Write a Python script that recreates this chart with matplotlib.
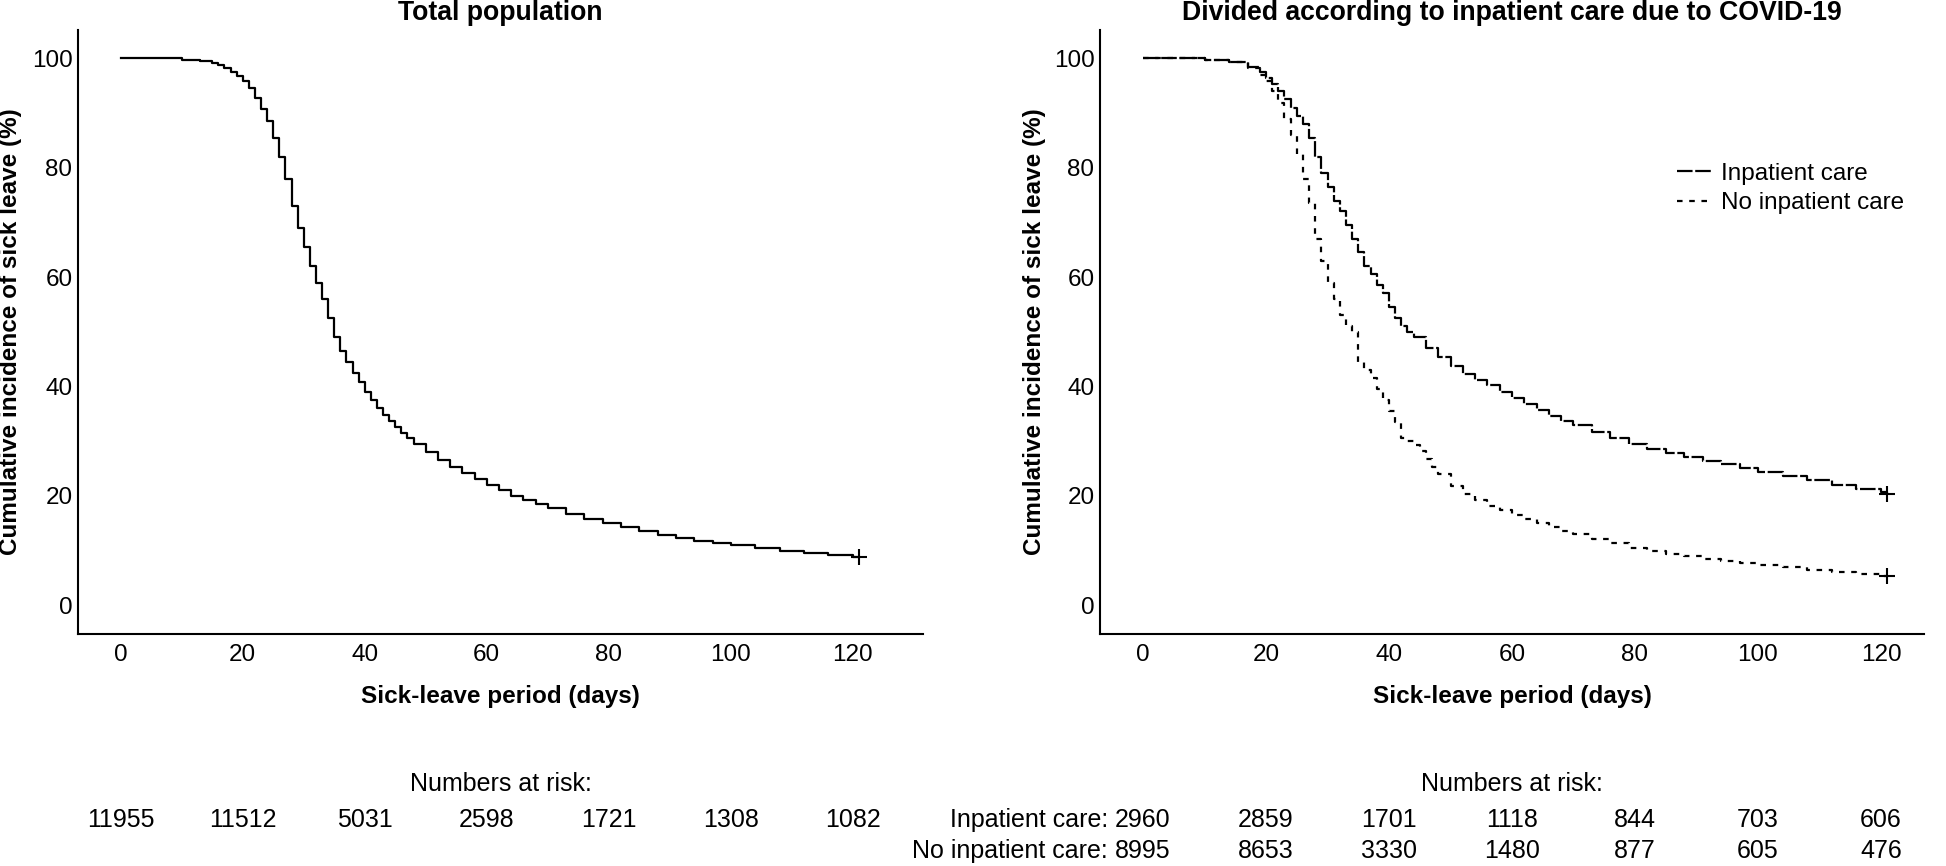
import matplotlib.pyplot as plt
import matplotlib.transforms as mtransforms

plt.rcParams['font.family'] = ['Liberation Sans', 'DejaVu Sans']

# total population, cumulative incidence of sick leave (%)
tot_days = [0, 10, 13, 15, 16, 17, 18, 19, 20, 21, 22, 23, 24, 25, 26, 27, 28, 29, 30,
            31, 32, 33, 34, 35, 36, 37, 38, 39, 40, 41, 42, 43, 44, 45, 46, 47, 48,
            50, 52, 54, 56, 58, 60, 62, 64, 66, 68, 70, 73, 76, 79, 82, 85, 88, 91,
            94, 97, 100, 104, 108, 112, 116, 120]
tot_vals = [100, 99.8, 99.5, 99.2, 98.8, 98.3, 97.6, 96.8, 95.8, 94.5, 92.8, 90.8, 88.5,
            85.5, 82, 78, 73, 69, 65.5, 62, 59, 56, 52.5, 49, 46.5, 44.5, 42.5, 40.8,
            39, 37.5, 36, 34.8, 33.7, 32.6, 31.5, 30.5, 29.5, 28, 26.6, 25.3, 24.1, 23,
            22, 21, 20, 19.2, 18.4, 17.7, 16.7, 15.8, 15, 14.2, 13.5, 12.9, 12.3, 11.8,
            11.3, 10.9, 10.4, 9.9, 9.5, 9.1, 8.8]

inp_days = [0, 10, 14, 17, 19, 20, 21, 22, 23, 24, 25, 26, 27, 28, 29, 30, 31, 32, 33,
            34, 35, 36, 37, 38, 39, 40, 41, 42, 43, 44, 46, 48, 50, 52, 54, 56, 58, 60,
            62, 64, 66, 68, 70, 73, 76, 79, 82, 85, 88, 91, 94, 97, 100, 104, 108, 112,
            116, 120]
inp_vals = [100, 99.7, 99.4, 98.5, 97.5, 96.5, 95.3, 94, 92.5, 91, 89.5, 88, 85.5, 82,
            79, 76.5, 74, 72, 69.5, 67, 64.5, 62, 60.5, 58.5, 57, 54.5, 52.5, 51, 50,
            49, 47, 45.3, 43.8, 42.3, 41.2, 40.2, 39, 37.8, 36.8, 35.6, 34.6, 33.7, 32.9,
            31.7, 30.6, 29.5, 28.6, 27.8, 27.1, 26.4, 25.8, 25.1, 24.4, 23.6, 22.8, 22,
            21.3, 20.6]

noinp_days = [0, 10, 14, 17, 19, 20, 21, 22, 23, 24, 25, 26, 27, 28, 29, 30, 31, 32,
              33, 34, 35, 36, 37, 38, 39, 40, 41, 42, 43, 44, 45, 46, 47, 48, 50, 52,
              54, 56, 58, 60, 62, 64, 66, 68, 70, 73, 76, 79, 82, 85, 88, 91, 94, 97,
              100, 104, 108, 112, 116, 120]
noinp_vals = [100, 99.7, 99.3, 98.3, 97, 95.8, 94, 91.8, 89, 86, 82.5, 78, 73.5, 67, 63,
              59, 56, 53, 51, 50, 44.5, 43, 41.5, 39.5, 37.5, 35.5, 33.5, 30.5, 30, 29.3,
              28.2, 26.8, 25.3, 24, 21.8, 20.3, 19.2, 18.2, 17.3, 16.5, 15.8, 15, 14.3,
              13.6, 13, 12.1, 11.3, 10.5, 9.9, 9.4, 8.9, 8.5, 8.1, 7.7, 7.3, 6.9, 6.5,
              6.1, 5.7, 5.4]

end_day = 121
tot_end, inp_end, noinp_end = 8.8, 20.4, 5.3

risk_days = [0, 20, 40, 60, 80, 100, 120]
risk_total = [11955, 11512, 5031, 2598, 1721, 1308, 1082]
risk_inp = [2960, 2859, 1701, 1118, 844, 703, 606]
risk_noinp = [8995, 8653, 3330, 1480, 877, 605, 476]

FS = 17.5
RISK_FS = 18

fig = plt.figure(figsize=(19.46, 8.66), dpi=100)
ax1 = fig.add_axes([78 / 1946, 1 - 634 / 866, 845 / 1946, 604 / 866])
ax2 = fig.add_axes([1100 / 1946, 1 - 634 / 866, 824 / 1946, 604 / 866])


def km(ax, days, vals, last, **kw):
    ax.step(days + [end_day], vals + [last], where='post', color='k', lw=1.6, **kw)
    ax.plot([end_day], [last], marker='+', color='k', ms=11, mew=1.5)


km(ax1, tot_days, tot_vals, tot_end)
km(ax2, inp_days, inp_vals, inp_end, dashes=(7, 1.2), label='Inpatient care')
km(ax2, noinp_days, noinp_vals, noinp_end, dashes=(2.5, 3), label='No inpatient care')

ax1.set_xlim(-7, 131.5)
ax2.set_xlim(-7, 127)
for ax, title in [(ax1, 'Total population'),
                  (ax2, 'Divided according to inpatient care due to COVID-19')]:
    ax.set_ylim(-5.3, 105.2)
    ax.set_xticks(range(0, 121, 20))
    ax.set_yticks(range(0, 101, 20))
    ax.spines['top'].set_visible(False)
    ax.spines['right'].set_visible(False)
    ax.spines['left'].set_linewidth(1.5)
    ax.spines['bottom'].set_linewidth(1.5)
    ax.tick_params(length=0, labelsize=17.5)
    ax.tick_params(axis='x', pad=7)
    ax.tick_params(axis='y', pad=4)
    ax.set_title(title, fontsize=19.2, fontweight='bold', pad=7)
    ax.set_xlabel('Sick-leave period (days)', fontsize=FS, fontweight='bold')
    ax.set_ylabel('Cumulative incidence of sick leave (%)', fontsize=FS, fontweight='bold')
    ax.xaxis.set_label_coords(0.5, -0.085)
    ax.yaxis.set_label_coords(-0.066, 0.5)

ax2.legend(loc='upper left', bbox_to_anchor=(0.70, 0.78), frameon=False, fontsize=FS,
           handlelength=1.5, handletextpad=0.3, labelspacing=0.3, borderpad=0,
           borderaxespad=0)

# numbers at risk tables
y_head, y_row1, y_row2 = 1 - 784 / 866, 1 - 820 / 866, 1 - 851 / 866
tr1 = mtransforms.blended_transform_factory(ax1.transData, fig.transFigure)
tr2 = mtransforms.blended_transform_factory(ax2.transData, fig.transFigure)

fig.text(0.5 * (78 + 923) / 1946, y_head, 'Numbers at risk:', ha='center', va='center',
         fontsize=RISK_FS)
fig.text(0.5 * (1100 + 1924) / 1946, y_head, 'Numbers at risk:', ha='center',
         va='center', fontsize=RISK_FS)
for d, n in zip(risk_days, risk_total):
    ax1.text(d, y_row1, str(n), transform=tr1, ha='center', va='center', fontsize=RISK_FS)

first = []
for y, row in [(y_row1, risk_inp), (y_row2, risk_noinp)]:
    for i, (d, n) in enumerate(zip(risk_days, row)):
        t = ax2.text(d, y, str(n), transform=tr2, ha='center', va='center',
                     fontsize=RISK_FS)
        if i == 0:
            first.append(t)

fig.canvas.draw()
renderer = fig.canvas.get_renderer()
for t, lab, y in [(first[0], 'Inpatient care: ', y_row1),
                  (first[1], 'No inpatient care: ', y_row2)]:
    bb = t.get_window_extent(renderer)
    x0 = fig.transFigure.inverted().transform((bb.x0, 0))[0]
    fig.text(x0, y, lab, ha='right', va='center', fontsize=RISK_FS)

fig.savefig('out.png', dpi=100)
